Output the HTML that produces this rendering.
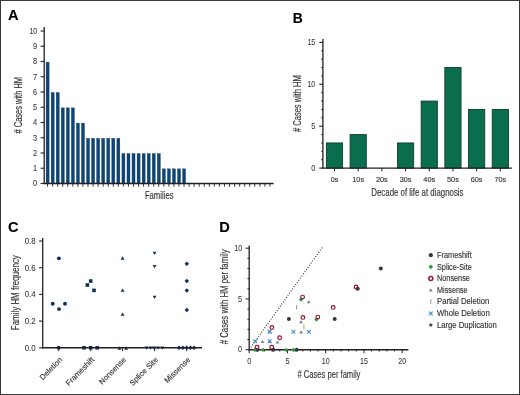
<!DOCTYPE html>
<html><head><meta charset="utf-8"><style>
html,body{margin:0;padding:0;background:#fff;overflow:hidden;}
#w{width:520px;height:395px;will-change:transform;}
svg{display:block;font-family:"Liberation Sans", sans-serif;}
</style></head><body><div id="w">
<svg width="520" height="395" viewBox="0 0 520 395">
<rect x="0" y="0" width="520" height="395" fill="#fff"/>
<text x="8.0" y="19.6" font-size="14.6" font-weight="bold" fill="#000" stroke="#000" stroke-width="0.12">A</text>
<rect x="46.10" y="62.10" width="3.0" height="121.40" fill="#0c4677" stroke="#08325a" stroke-width="0.35"/>
<rect x="51.16" y="92.60" width="3.0" height="90.90" fill="#0c4677" stroke="#08325a" stroke-width="0.35"/>
<rect x="56.21" y="92.60" width="3.0" height="90.90" fill="#0c4677" stroke="#08325a" stroke-width="0.35"/>
<rect x="61.27" y="107.85" width="3.0" height="75.65" fill="#0c4677" stroke="#08325a" stroke-width="0.35"/>
<rect x="66.32" y="107.85" width="3.0" height="75.65" fill="#0c4677" stroke="#08325a" stroke-width="0.35"/>
<rect x="71.38" y="107.85" width="3.0" height="75.65" fill="#0c4677" stroke="#08325a" stroke-width="0.35"/>
<rect x="76.43" y="123.10" width="3.0" height="60.40" fill="#0c4677" stroke="#08325a" stroke-width="0.35"/>
<rect x="81.48" y="123.10" width="3.0" height="60.40" fill="#0c4677" stroke="#08325a" stroke-width="0.35"/>
<rect x="86.54" y="138.35" width="3.0" height="45.15" fill="#0c4677" stroke="#08325a" stroke-width="0.35"/>
<rect x="91.59" y="138.35" width="3.0" height="45.15" fill="#0c4677" stroke="#08325a" stroke-width="0.35"/>
<rect x="96.65" y="138.35" width="3.0" height="45.15" fill="#0c4677" stroke="#08325a" stroke-width="0.35"/>
<rect x="101.70" y="138.35" width="3.0" height="45.15" fill="#0c4677" stroke="#08325a" stroke-width="0.35"/>
<rect x="106.76" y="138.35" width="3.0" height="45.15" fill="#0c4677" stroke="#08325a" stroke-width="0.35"/>
<rect x="111.81" y="138.35" width="3.0" height="45.15" fill="#0c4677" stroke="#08325a" stroke-width="0.35"/>
<rect x="116.87" y="138.35" width="3.0" height="45.15" fill="#0c4677" stroke="#08325a" stroke-width="0.35"/>
<rect x="121.92" y="153.60" width="3.0" height="29.90" fill="#0c4677" stroke="#08325a" stroke-width="0.35"/>
<rect x="126.98" y="153.60" width="3.0" height="29.90" fill="#0c4677" stroke="#08325a" stroke-width="0.35"/>
<rect x="132.03" y="153.60" width="3.0" height="29.90" fill="#0c4677" stroke="#08325a" stroke-width="0.35"/>
<rect x="137.09" y="153.60" width="3.0" height="29.90" fill="#0c4677" stroke="#08325a" stroke-width="0.35"/>
<rect x="142.14" y="153.60" width="3.0" height="29.90" fill="#0c4677" stroke="#08325a" stroke-width="0.35"/>
<rect x="147.20" y="153.60" width="3.0" height="29.90" fill="#0c4677" stroke="#08325a" stroke-width="0.35"/>
<rect x="152.25" y="153.60" width="3.0" height="29.90" fill="#0c4677" stroke="#08325a" stroke-width="0.35"/>
<rect x="157.31" y="153.60" width="3.0" height="29.90" fill="#0c4677" stroke="#08325a" stroke-width="0.35"/>
<rect x="162.36" y="168.85" width="3.0" height="14.65" fill="#0c4677" stroke="#08325a" stroke-width="0.35"/>
<rect x="167.42" y="168.85" width="3.0" height="14.65" fill="#0c4677" stroke="#08325a" stroke-width="0.35"/>
<rect x="172.47" y="168.85" width="3.0" height="14.65" fill="#0c4677" stroke="#08325a" stroke-width="0.35"/>
<rect x="177.53" y="168.85" width="3.0" height="14.65" fill="#0c4677" stroke="#08325a" stroke-width="0.35"/>
<rect x="182.58" y="168.85" width="3.0" height="14.65" fill="#0c4677" stroke="#08325a" stroke-width="0.35"/>
<line x1="47.55" y1="183.50" x2="47.55" y2="186.70" stroke="#231f20" stroke-width="0.9"/>
<line x1="52.60" y1="183.50" x2="52.60" y2="186.70" stroke="#231f20" stroke-width="0.9"/>
<line x1="57.66" y1="183.50" x2="57.66" y2="186.70" stroke="#231f20" stroke-width="0.9"/>
<line x1="62.71" y1="183.50" x2="62.71" y2="186.70" stroke="#231f20" stroke-width="0.9"/>
<line x1="67.77" y1="183.50" x2="67.77" y2="186.70" stroke="#231f20" stroke-width="0.9"/>
<line x1="72.82" y1="183.50" x2="72.82" y2="186.70" stroke="#231f20" stroke-width="0.9"/>
<line x1="77.88" y1="183.50" x2="77.88" y2="186.70" stroke="#231f20" stroke-width="0.9"/>
<line x1="82.94" y1="183.50" x2="82.94" y2="186.70" stroke="#231f20" stroke-width="0.9"/>
<line x1="87.99" y1="183.50" x2="87.99" y2="186.70" stroke="#231f20" stroke-width="0.9"/>
<line x1="93.04" y1="183.50" x2="93.04" y2="186.70" stroke="#231f20" stroke-width="0.9"/>
<line x1="98.10" y1="183.50" x2="98.10" y2="186.70" stroke="#231f20" stroke-width="0.9"/>
<line x1="103.16" y1="183.50" x2="103.16" y2="186.70" stroke="#231f20" stroke-width="0.9"/>
<line x1="108.21" y1="183.50" x2="108.21" y2="186.70" stroke="#231f20" stroke-width="0.9"/>
<line x1="113.27" y1="183.50" x2="113.27" y2="186.70" stroke="#231f20" stroke-width="0.9"/>
<line x1="118.32" y1="183.50" x2="118.32" y2="186.70" stroke="#231f20" stroke-width="0.9"/>
<line x1="123.37" y1="183.50" x2="123.37" y2="186.70" stroke="#231f20" stroke-width="0.9"/>
<line x1="128.43" y1="183.50" x2="128.43" y2="186.70" stroke="#231f20" stroke-width="0.9"/>
<line x1="133.49" y1="183.50" x2="133.49" y2="186.70" stroke="#231f20" stroke-width="0.9"/>
<line x1="138.54" y1="183.50" x2="138.54" y2="186.70" stroke="#231f20" stroke-width="0.9"/>
<line x1="143.59" y1="183.50" x2="143.59" y2="186.70" stroke="#231f20" stroke-width="0.9"/>
<line x1="148.65" y1="183.50" x2="148.65" y2="186.70" stroke="#231f20" stroke-width="0.9"/>
<line x1="153.70" y1="183.50" x2="153.70" y2="186.70" stroke="#231f20" stroke-width="0.9"/>
<line x1="158.76" y1="183.50" x2="158.76" y2="186.70" stroke="#231f20" stroke-width="0.9"/>
<line x1="163.81" y1="183.50" x2="163.81" y2="186.70" stroke="#231f20" stroke-width="0.9"/>
<line x1="168.87" y1="183.50" x2="168.87" y2="186.70" stroke="#231f20" stroke-width="0.9"/>
<line x1="173.93" y1="183.50" x2="173.93" y2="186.70" stroke="#231f20" stroke-width="0.9"/>
<line x1="178.98" y1="183.50" x2="178.98" y2="186.70" stroke="#231f20" stroke-width="0.9"/>
<line x1="184.03" y1="183.50" x2="184.03" y2="186.70" stroke="#231f20" stroke-width="0.9"/>
<line x1="189.09" y1="183.50" x2="189.09" y2="186.70" stroke="#231f20" stroke-width="0.9"/>
<line x1="194.14" y1="183.50" x2="194.14" y2="186.70" stroke="#231f20" stroke-width="0.9"/>
<line x1="199.20" y1="183.50" x2="199.20" y2="186.70" stroke="#231f20" stroke-width="0.9"/>
<line x1="204.25" y1="183.50" x2="204.25" y2="186.70" stroke="#231f20" stroke-width="0.9"/>
<line x1="209.31" y1="183.50" x2="209.31" y2="186.70" stroke="#231f20" stroke-width="0.9"/>
<line x1="214.37" y1="183.50" x2="214.37" y2="186.70" stroke="#231f20" stroke-width="0.9"/>
<line x1="219.42" y1="183.50" x2="219.42" y2="186.70" stroke="#231f20" stroke-width="0.9"/>
<line x1="224.47" y1="183.50" x2="224.47" y2="186.70" stroke="#231f20" stroke-width="0.9"/>
<line x1="229.53" y1="183.50" x2="229.53" y2="186.70" stroke="#231f20" stroke-width="0.9"/>
<line x1="234.58" y1="183.50" x2="234.58" y2="186.70" stroke="#231f20" stroke-width="0.9"/>
<line x1="239.64" y1="183.50" x2="239.64" y2="186.70" stroke="#231f20" stroke-width="0.9"/>
<line x1="244.69" y1="183.50" x2="244.69" y2="186.70" stroke="#231f20" stroke-width="0.9"/>
<line x1="249.75" y1="183.50" x2="249.75" y2="186.70" stroke="#231f20" stroke-width="0.9"/>
<line x1="254.81" y1="183.50" x2="254.81" y2="186.70" stroke="#231f20" stroke-width="0.9"/>
<line x1="259.86" y1="183.50" x2="259.86" y2="186.70" stroke="#231f20" stroke-width="0.9"/>
<line x1="264.91" y1="183.50" x2="264.91" y2="186.70" stroke="#231f20" stroke-width="0.9"/>
<line x1="269.97" y1="183.50" x2="269.97" y2="186.70" stroke="#231f20" stroke-width="0.9"/>
<line x1="44.20" y1="27.10" x2="44.20" y2="184.10" stroke="#231f20" stroke-width="1.3"/>
<line x1="43.60" y1="183.50" x2="273.60" y2="183.50" stroke="#231f20" stroke-width="1.4"/>
<line x1="40.60" y1="183.50" x2="44.20" y2="183.50" stroke="#231f20" stroke-width="1.1"/>
<text x="37.10" y="186.30" font-size="8.6" text-anchor="end" fill="#333" stroke="#333" stroke-width="0.06" textLength="4.11" lengthAdjust="spacingAndGlyphs">0</text>
<line x1="40.60" y1="168.25" x2="44.20" y2="168.25" stroke="#231f20" stroke-width="1.1"/>
<text x="37.10" y="171.05" font-size="8.6" text-anchor="end" fill="#333" stroke="#333" stroke-width="0.06" textLength="4.11" lengthAdjust="spacingAndGlyphs">1</text>
<line x1="40.60" y1="153.00" x2="44.20" y2="153.00" stroke="#231f20" stroke-width="1.1"/>
<text x="37.10" y="155.80" font-size="8.6" text-anchor="end" fill="#333" stroke="#333" stroke-width="0.06" textLength="4.11" lengthAdjust="spacingAndGlyphs">2</text>
<line x1="40.60" y1="137.75" x2="44.20" y2="137.75" stroke="#231f20" stroke-width="1.1"/>
<text x="37.10" y="140.55" font-size="8.6" text-anchor="end" fill="#333" stroke="#333" stroke-width="0.06" textLength="4.11" lengthAdjust="spacingAndGlyphs">3</text>
<line x1="40.60" y1="122.50" x2="44.20" y2="122.50" stroke="#231f20" stroke-width="1.1"/>
<text x="37.10" y="125.30" font-size="8.6" text-anchor="end" fill="#333" stroke="#333" stroke-width="0.06" textLength="4.11" lengthAdjust="spacingAndGlyphs">4</text>
<line x1="40.60" y1="107.25" x2="44.20" y2="107.25" stroke="#231f20" stroke-width="1.1"/>
<text x="37.10" y="110.05" font-size="8.6" text-anchor="end" fill="#333" stroke="#333" stroke-width="0.06" textLength="4.11" lengthAdjust="spacingAndGlyphs">5</text>
<line x1="40.60" y1="92.00" x2="44.20" y2="92.00" stroke="#231f20" stroke-width="1.1"/>
<text x="37.10" y="94.80" font-size="8.6" text-anchor="end" fill="#333" stroke="#333" stroke-width="0.06" textLength="4.11" lengthAdjust="spacingAndGlyphs">6</text>
<line x1="40.60" y1="76.75" x2="44.20" y2="76.75" stroke="#231f20" stroke-width="1.1"/>
<text x="37.10" y="79.55" font-size="8.6" text-anchor="end" fill="#333" stroke="#333" stroke-width="0.06" textLength="4.11" lengthAdjust="spacingAndGlyphs">7</text>
<line x1="40.60" y1="61.50" x2="44.20" y2="61.50" stroke="#231f20" stroke-width="1.1"/>
<text x="37.10" y="64.30" font-size="8.6" text-anchor="end" fill="#333" stroke="#333" stroke-width="0.06" textLength="4.11" lengthAdjust="spacingAndGlyphs">8</text>
<line x1="40.60" y1="46.25" x2="44.20" y2="46.25" stroke="#231f20" stroke-width="1.1"/>
<text x="37.10" y="49.05" font-size="8.6" text-anchor="end" fill="#333" stroke="#333" stroke-width="0.06" textLength="4.11" lengthAdjust="spacingAndGlyphs">9</text>
<line x1="40.60" y1="31.00" x2="44.20" y2="31.00" stroke="#231f20" stroke-width="1.1"/>
<text x="37.10" y="33.80" font-size="8.6" text-anchor="end" fill="#333" stroke="#333" stroke-width="0.06" textLength="7.9" lengthAdjust="spacingAndGlyphs">10</text>
<text x="159.20" y="199.30" font-size="10.6" text-anchor="middle" fill="#333" stroke="#333" stroke-width="0.14" textLength="28.58" lengthAdjust="spacingAndGlyphs">Families</text>
<text transform="translate(21.90,105.20) rotate(-90)" font-size="10.6" text-anchor="middle" fill="#333" stroke="#333" stroke-width="0.14" textLength="56.58" lengthAdjust="spacingAndGlyphs"># Cases with HM</text>
<text x="292.8" y="23.1" font-size="13.9" font-weight="bold" fill="#000" stroke="#000" stroke-width="0.12">B</text>
<rect x="326.40" y="142.96" width="16.2" height="25.14" fill="#0a6d4d" stroke="#0c3f2d" stroke-width="0.9"/>
<line x1="334.50" y1="168.10" x2="334.50" y2="171.40" stroke="#231f20" stroke-width="1.0"/>
<text x="334.50" y="181.70" font-size="7.7" text-anchor="middle" fill="#333" stroke="#333" stroke-width="0.14" textLength="7.73" lengthAdjust="spacingAndGlyphs">0s</text>
<rect x="350.09" y="134.58" width="16.2" height="33.52" fill="#0a6d4d" stroke="#0c3f2d" stroke-width="0.9"/>
<line x1="358.19" y1="168.10" x2="358.19" y2="171.40" stroke="#231f20" stroke-width="1.0"/>
<text x="358.19" y="181.70" font-size="7.7" text-anchor="middle" fill="#333" stroke="#333" stroke-width="0.14" textLength="11.79" lengthAdjust="spacingAndGlyphs">10s</text>
<line x1="381.88" y1="168.10" x2="381.88" y2="171.40" stroke="#231f20" stroke-width="1.0"/>
<text x="381.88" y="181.70" font-size="7.7" text-anchor="middle" fill="#333" stroke="#333" stroke-width="0.14" textLength="11.79" lengthAdjust="spacingAndGlyphs">20s</text>
<rect x="397.47" y="142.96" width="16.2" height="25.14" fill="#0a6d4d" stroke="#0c3f2d" stroke-width="0.9"/>
<line x1="405.57" y1="168.10" x2="405.57" y2="171.40" stroke="#231f20" stroke-width="1.0"/>
<text x="405.57" y="181.70" font-size="7.7" text-anchor="middle" fill="#333" stroke="#333" stroke-width="0.14" textLength="11.79" lengthAdjust="spacingAndGlyphs">30s</text>
<rect x="421.16" y="101.06" width="16.2" height="67.04" fill="#0a6d4d" stroke="#0c3f2d" stroke-width="0.9"/>
<line x1="429.26" y1="168.10" x2="429.26" y2="171.40" stroke="#231f20" stroke-width="1.0"/>
<text x="429.26" y="181.70" font-size="7.7" text-anchor="middle" fill="#333" stroke="#333" stroke-width="0.14" textLength="11.79" lengthAdjust="spacingAndGlyphs">40s</text>
<rect x="444.85" y="67.54" width="16.2" height="100.56" fill="#0a6d4d" stroke="#0c3f2d" stroke-width="0.9"/>
<line x1="452.95" y1="168.10" x2="452.95" y2="171.40" stroke="#231f20" stroke-width="1.0"/>
<text x="452.95" y="181.70" font-size="7.7" text-anchor="middle" fill="#333" stroke="#333" stroke-width="0.14" textLength="11.79" lengthAdjust="spacingAndGlyphs">50s</text>
<rect x="468.54" y="109.44" width="16.2" height="58.66" fill="#0a6d4d" stroke="#0c3f2d" stroke-width="0.9"/>
<line x1="476.64" y1="168.10" x2="476.64" y2="171.40" stroke="#231f20" stroke-width="1.0"/>
<text x="476.64" y="181.70" font-size="7.7" text-anchor="middle" fill="#333" stroke="#333" stroke-width="0.14" textLength="11.79" lengthAdjust="spacingAndGlyphs">60s</text>
<rect x="492.23" y="109.44" width="16.2" height="58.66" fill="#0a6d4d" stroke="#0c3f2d" stroke-width="0.9"/>
<line x1="500.33" y1="168.10" x2="500.33" y2="171.40" stroke="#231f20" stroke-width="1.0"/>
<text x="500.33" y="181.70" font-size="7.7" text-anchor="middle" fill="#333" stroke="#333" stroke-width="0.14" textLength="11.79" lengthAdjust="spacingAndGlyphs">70s</text>
<line x1="322.90" y1="39.10" x2="322.90" y2="168.70" stroke="#231f20" stroke-width="1.3"/>
<line x1="322.30" y1="168.10" x2="511.90" y2="168.10" stroke="#231f20" stroke-width="1.4"/>
<line x1="319.30" y1="168.10" x2="322.90" y2="168.10" stroke="#231f20" stroke-width="1.1"/>
<text x="315.30" y="170.90" font-size="8.6" text-anchor="end" fill="#333" stroke="#333" stroke-width="0.06" textLength="4.11" lengthAdjust="spacingAndGlyphs">0</text>
<line x1="321.10" y1="159.72" x2="322.90" y2="159.72" stroke="#231f20" stroke-width="0.9"/>
<line x1="321.10" y1="151.34" x2="322.90" y2="151.34" stroke="#231f20" stroke-width="0.9"/>
<line x1="321.10" y1="142.96" x2="322.90" y2="142.96" stroke="#231f20" stroke-width="0.9"/>
<line x1="321.10" y1="134.58" x2="322.90" y2="134.58" stroke="#231f20" stroke-width="0.9"/>
<line x1="319.30" y1="126.20" x2="322.90" y2="126.20" stroke="#231f20" stroke-width="1.1"/>
<text x="315.30" y="129.00" font-size="8.6" text-anchor="end" fill="#333" stroke="#333" stroke-width="0.06" textLength="4.11" lengthAdjust="spacingAndGlyphs">5</text>
<line x1="321.10" y1="117.82" x2="322.90" y2="117.82" stroke="#231f20" stroke-width="0.9"/>
<line x1="321.10" y1="109.44" x2="322.90" y2="109.44" stroke="#231f20" stroke-width="0.9"/>
<line x1="321.10" y1="101.06" x2="322.90" y2="101.06" stroke="#231f20" stroke-width="0.9"/>
<line x1="321.10" y1="92.68" x2="322.90" y2="92.68" stroke="#231f20" stroke-width="0.9"/>
<line x1="319.30" y1="84.30" x2="322.90" y2="84.30" stroke="#231f20" stroke-width="1.1"/>
<text x="315.30" y="87.10" font-size="8.6" text-anchor="end" fill="#333" stroke="#333" stroke-width="0.06" textLength="7.9" lengthAdjust="spacingAndGlyphs">10</text>
<line x1="321.10" y1="75.92" x2="322.90" y2="75.92" stroke="#231f20" stroke-width="0.9"/>
<line x1="321.10" y1="67.54" x2="322.90" y2="67.54" stroke="#231f20" stroke-width="0.9"/>
<line x1="321.10" y1="59.16" x2="322.90" y2="59.16" stroke="#231f20" stroke-width="0.9"/>
<line x1="321.10" y1="50.78" x2="322.90" y2="50.78" stroke="#231f20" stroke-width="0.9"/>
<line x1="319.30" y1="42.40" x2="322.90" y2="42.40" stroke="#231f20" stroke-width="1.1"/>
<text x="315.30" y="45.20" font-size="8.6" text-anchor="end" fill="#333" stroke="#333" stroke-width="0.06" textLength="7.9" lengthAdjust="spacingAndGlyphs">15</text>
<text x="417.40" y="196.00" font-size="10.6" text-anchor="middle" fill="#333" stroke="#333" stroke-width="0.14" textLength="92.2" lengthAdjust="spacingAndGlyphs">Decade of life at diagnosis</text>
<text transform="translate(300.70,103.60) rotate(-90)" font-size="10.6" text-anchor="middle" fill="#333" stroke="#333" stroke-width="0.14" textLength="56.78" lengthAdjust="spacingAndGlyphs"># Cases with HM</text>
<text x="8.0" y="231.6" font-size="14.6" font-weight="bold" fill="#000" stroke="#000" stroke-width="0.12">C</text>
<line x1="39.10" y1="347.80" x2="42.70" y2="347.80" stroke="#231f20" stroke-width="1.1"/>
<text x="35.60" y="350.60" font-size="8.6" text-anchor="end" fill="#333" stroke="#333" stroke-width="0.06" textLength="10.9" lengthAdjust="spacingAndGlyphs">0.0</text>
<line x1="39.10" y1="321.10" x2="42.70" y2="321.10" stroke="#231f20" stroke-width="1.1"/>
<text x="35.60" y="323.90" font-size="8.6" text-anchor="end" fill="#333" stroke="#333" stroke-width="0.06" textLength="10.9" lengthAdjust="spacingAndGlyphs">0.2</text>
<line x1="39.10" y1="294.40" x2="42.70" y2="294.40" stroke="#231f20" stroke-width="1.1"/>
<text x="35.60" y="297.20" font-size="8.6" text-anchor="end" fill="#333" stroke="#333" stroke-width="0.06" textLength="10.9" lengthAdjust="spacingAndGlyphs">0.4</text>
<line x1="39.10" y1="267.70" x2="42.70" y2="267.70" stroke="#231f20" stroke-width="1.1"/>
<text x="35.60" y="270.50" font-size="8.6" text-anchor="end" fill="#333" stroke="#333" stroke-width="0.06" textLength="10.9" lengthAdjust="spacingAndGlyphs">0.6</text>
<line x1="39.10" y1="241.00" x2="42.70" y2="241.00" stroke="#231f20" stroke-width="1.1"/>
<text x="35.60" y="243.80" font-size="8.6" text-anchor="end" fill="#333" stroke="#333" stroke-width="0.06" textLength="10.9" lengthAdjust="spacingAndGlyphs">0.8</text>
<line x1="58.80" y1="347.80" x2="58.80" y2="351.20" stroke="#231f20" stroke-width="1.0"/>
<line x1="90.70" y1="347.80" x2="90.70" y2="351.20" stroke="#231f20" stroke-width="1.0"/>
<line x1="122.60" y1="347.80" x2="122.60" y2="351.20" stroke="#231f20" stroke-width="1.0"/>
<line x1="154.60" y1="347.80" x2="154.60" y2="351.20" stroke="#231f20" stroke-width="1.0"/>
<line x1="186.70" y1="347.80" x2="186.70" y2="351.20" stroke="#231f20" stroke-width="1.0"/>
<circle cx="58.90" cy="258.36" r="1.95" fill="#12305a"/>
<circle cx="52.70" cy="303.75" r="1.95" fill="#12305a"/>
<circle cx="65.00" cy="303.75" r="1.95" fill="#12305a"/>
<circle cx="59.05" cy="309.09" r="1.95" fill="#12305a"/>
<circle cx="58.60" cy="347.80" r="1.95" fill="#12305a"/>
<rect x="85.60" y="283.25" width="3.6" height="3.6" fill="#12305a"/>
<rect x="88.90" y="279.25" width="3.6" height="3.6" fill="#12305a"/>
<rect x="92.20" y="288.59" width="3.6" height="3.6" fill="#12305a"/>
<rect x="82.20" y="346.00" width="3.6" height="3.6" fill="#12305a"/>
<rect x="88.90" y="346.00" width="3.6" height="3.6" fill="#12305a"/>
<rect x="95.40" y="346.00" width="3.6" height="3.6" fill="#12305a"/>
<polygon points="122.60,256.37 124.50,259.68 120.70,259.68" fill="#12305a"/>
<polygon points="122.60,288.41 124.50,291.72 120.70,291.72" fill="#12305a"/>
<polygon points="122.60,312.44 124.50,315.75 120.70,315.75" fill="#12305a"/>
<polygon points="119.50,346.35 121.40,349.66 117.60,349.66" fill="#12305a"/>
<polygon points="126.20,346.35 128.10,349.66 124.30,349.66" fill="#12305a"/>
<polygon points="154.60,255.00 156.50,251.69 152.70,251.69" fill="#12305a"/>
<polygon points="154.60,268.35 156.50,265.04 152.70,265.04" fill="#12305a"/>
<polygon points="154.60,299.05 156.50,295.75 152.70,295.75" fill="#12305a"/>
<polygon points="146.50,349.78 148.40,346.48 144.60,346.48" fill="#12305a"/>
<polygon points="150.50,349.78 152.40,346.48 148.60,346.48" fill="#12305a"/>
<polygon points="154.00,349.78 155.90,346.48 152.10,346.48" fill="#12305a"/>
<polygon points="158.00,349.78 159.90,346.48 156.10,346.48" fill="#12305a"/>
<polygon points="162.50,349.78 164.40,346.48 160.60,346.48" fill="#12305a"/>
<polygon points="186.80,261.44 189.05,263.69 186.80,265.94 184.55,263.69" fill="#12305a"/>
<polygon points="186.80,278.80 189.05,281.05 186.80,283.30 184.55,281.05" fill="#12305a"/>
<polygon points="186.80,288.14 189.05,290.39 186.80,292.64 184.55,290.39" fill="#12305a"/>
<polygon points="186.80,307.77 189.05,310.02 186.80,312.27 184.55,310.02" fill="#12305a"/>
<polygon points="179.00,345.55 181.25,347.80 179.00,350.05 176.75,347.80" fill="#12305a"/>
<polygon points="182.80,345.55 185.05,347.80 182.80,350.05 180.55,347.80" fill="#12305a"/>
<polygon points="186.60,345.55 188.85,347.80 186.60,350.05 184.35,347.80" fill="#12305a"/>
<polygon points="190.50,345.55 192.75,347.80 190.50,350.05 188.25,347.80" fill="#12305a"/>
<polygon points="194.00,345.55 196.25,347.80 194.00,350.05 191.75,347.80" fill="#12305a"/>
<line x1="42.70" y1="238.00" x2="42.70" y2="348.40" stroke="#231f20" stroke-width="1.3"/>
<line x1="42.10" y1="347.80" x2="202.00" y2="347.80" stroke="#231f20" stroke-width="1.4"/>
<text transform="translate(62.80,360.30) rotate(-45)" font-size="7.75" text-anchor="end" fill="#333" stroke="#333" stroke-width="0.14">Deletion</text>
<text transform="translate(94.70,360.30) rotate(-45)" font-size="7.75" text-anchor="end" fill="#333" stroke="#333" stroke-width="0.14">Frameshift</text>
<text transform="translate(126.60,360.30) rotate(-45)" font-size="7.75" text-anchor="end" fill="#333" stroke="#333" stroke-width="0.14">Nonsense</text>
<text transform="translate(158.60,360.30) rotate(-45)" font-size="7.75" text-anchor="end" fill="#333" stroke="#333" stroke-width="0.14">Splice Site</text>
<text transform="translate(190.70,360.30) rotate(-45)" font-size="7.75" text-anchor="end" fill="#333" stroke="#333" stroke-width="0.14">Missense</text>
<text transform="translate(18.90,292.70) rotate(-90)" font-size="10.6" text-anchor="middle" fill="#333" stroke="#333" stroke-width="0.14" textLength="75.02" lengthAdjust="spacingAndGlyphs">Family HM frequency</text>
<text x="219.3" y="231.6" font-size="14.6" font-weight="bold" fill="#000" stroke="#000" stroke-width="0.12">D</text>
<line x1="249.20" y1="245.50" x2="249.20" y2="350.30" stroke="#231f20" stroke-width="1.3"/>
<line x1="248.60" y1="349.70" x2="408.40" y2="349.70" stroke="#231f20" stroke-width="1.4"/>
<line x1="245.60" y1="349.70" x2="249.20" y2="349.70" stroke="#231f20" stroke-width="1.0"/>
<text x="242.20" y="352.30" font-size="8.6" text-anchor="end" fill="#333" stroke="#333" stroke-width="0.06" textLength="4.11" lengthAdjust="spacingAndGlyphs">0</text>
<line x1="247.40" y1="339.55" x2="249.20" y2="339.55" stroke="#231f20" stroke-width="1.0"/>
<line x1="247.40" y1="329.40" x2="249.20" y2="329.40" stroke="#231f20" stroke-width="1.0"/>
<line x1="247.40" y1="319.25" x2="249.20" y2="319.25" stroke="#231f20" stroke-width="1.0"/>
<line x1="247.40" y1="309.10" x2="249.20" y2="309.10" stroke="#231f20" stroke-width="1.0"/>
<line x1="245.60" y1="298.95" x2="249.20" y2="298.95" stroke="#231f20" stroke-width="1.0"/>
<text x="242.20" y="301.55" font-size="8.6" text-anchor="end" fill="#333" stroke="#333" stroke-width="0.06" textLength="4.11" lengthAdjust="spacingAndGlyphs">5</text>
<line x1="247.40" y1="288.80" x2="249.20" y2="288.80" stroke="#231f20" stroke-width="1.0"/>
<line x1="247.40" y1="278.65" x2="249.20" y2="278.65" stroke="#231f20" stroke-width="1.0"/>
<line x1="247.40" y1="268.50" x2="249.20" y2="268.50" stroke="#231f20" stroke-width="1.0"/>
<line x1="247.40" y1="258.35" x2="249.20" y2="258.35" stroke="#231f20" stroke-width="1.0"/>
<line x1="245.60" y1="248.20" x2="249.20" y2="248.20" stroke="#231f20" stroke-width="1.0"/>
<text x="242.20" y="250.80" font-size="8.6" text-anchor="end" fill="#333" stroke="#333" stroke-width="0.06" textLength="7.9" lengthAdjust="spacingAndGlyphs">10</text>
<line x1="249.20" y1="349.70" x2="249.20" y2="353.30" stroke="#231f20" stroke-width="1.0"/>
<text x="249.20" y="363.80" font-size="8.6" text-anchor="middle" fill="#333" stroke="#333" stroke-width="0.06" textLength="4.11" lengthAdjust="spacingAndGlyphs">0</text>
<line x1="256.85" y1="349.70" x2="256.85" y2="351.50" stroke="#231f20" stroke-width="1.0"/>
<line x1="264.50" y1="349.70" x2="264.50" y2="351.50" stroke="#231f20" stroke-width="1.0"/>
<line x1="272.15" y1="349.70" x2="272.15" y2="351.50" stroke="#231f20" stroke-width="1.0"/>
<line x1="279.80" y1="349.70" x2="279.80" y2="351.50" stroke="#231f20" stroke-width="1.0"/>
<line x1="287.45" y1="349.70" x2="287.45" y2="353.30" stroke="#231f20" stroke-width="1.0"/>
<text x="287.45" y="363.80" font-size="8.6" text-anchor="middle" fill="#333" stroke="#333" stroke-width="0.06" textLength="4.11" lengthAdjust="spacingAndGlyphs">5</text>
<line x1="295.10" y1="349.70" x2="295.10" y2="351.50" stroke="#231f20" stroke-width="1.0"/>
<line x1="302.75" y1="349.70" x2="302.75" y2="351.50" stroke="#231f20" stroke-width="1.0"/>
<line x1="310.40" y1="349.70" x2="310.40" y2="351.50" stroke="#231f20" stroke-width="1.0"/>
<line x1="318.05" y1="349.70" x2="318.05" y2="351.50" stroke="#231f20" stroke-width="1.0"/>
<line x1="325.70" y1="349.70" x2="325.70" y2="353.30" stroke="#231f20" stroke-width="1.0"/>
<text x="325.70" y="363.80" font-size="8.6" text-anchor="middle" fill="#333" stroke="#333" stroke-width="0.06" textLength="7.9" lengthAdjust="spacingAndGlyphs">10</text>
<line x1="333.35" y1="349.70" x2="333.35" y2="351.50" stroke="#231f20" stroke-width="1.0"/>
<line x1="341.00" y1="349.70" x2="341.00" y2="351.50" stroke="#231f20" stroke-width="1.0"/>
<line x1="348.65" y1="349.70" x2="348.65" y2="351.50" stroke="#231f20" stroke-width="1.0"/>
<line x1="356.30" y1="349.70" x2="356.30" y2="351.50" stroke="#231f20" stroke-width="1.0"/>
<line x1="363.95" y1="349.70" x2="363.95" y2="353.30" stroke="#231f20" stroke-width="1.0"/>
<text x="363.95" y="363.80" font-size="8.6" text-anchor="middle" fill="#333" stroke="#333" stroke-width="0.06" textLength="7.9" lengthAdjust="spacingAndGlyphs">15</text>
<line x1="371.60" y1="349.70" x2="371.60" y2="351.50" stroke="#231f20" stroke-width="1.0"/>
<line x1="379.25" y1="349.70" x2="379.25" y2="351.50" stroke="#231f20" stroke-width="1.0"/>
<line x1="386.90" y1="349.70" x2="386.90" y2="351.50" stroke="#231f20" stroke-width="1.0"/>
<line x1="394.55" y1="349.70" x2="394.55" y2="351.50" stroke="#231f20" stroke-width="1.0"/>
<line x1="402.20" y1="349.70" x2="402.20" y2="353.30" stroke="#231f20" stroke-width="1.0"/>
<text x="402.20" y="363.80" font-size="8.6" text-anchor="middle" fill="#333" stroke="#333" stroke-width="0.06" textLength="7.9" lengthAdjust="spacingAndGlyphs">20</text>
<line x1="249.20" y1="349.70" x2="322.6" y2="247.0" stroke="#2a2a2a" stroke-width="1.05" stroke-dasharray="1.0,1.65"/>
<text x="328.90" y="377.50" font-size="10.6" text-anchor="middle" fill="#333" stroke="#333" stroke-width="0.14" textLength="63.01" lengthAdjust="spacingAndGlyphs"># Cases per family</text>
<text transform="translate(227.80,296.90) rotate(-90)" font-size="10.6" text-anchor="middle" fill="#333" stroke="#333" stroke-width="0.14" textLength="94.9" lengthAdjust="spacingAndGlyphs"># Cases with HM per family</text>
<circle cx="288.90" cy="319.10" r="2.0" fill="#2f3a40"/>
<circle cx="334.70" cy="319.10" r="2.0" fill="#2f3a40"/>
<circle cx="357.70" cy="288.70" r="2.0" fill="#2f3a40"/>
<circle cx="380.80" cy="268.50" r="2.0" fill="#2f3a40"/>
<circle cx="257.40" cy="349.70" r="2.0" fill="#2f3a40"/>
<circle cx="273.40" cy="349.70" r="2.0" fill="#2f3a40"/>
<circle cx="296.60" cy="349.70" r="2.0" fill="#2f3a40"/>
<polygon points="301.00,297.40 303.20,299.60 301.00,301.80 298.80,299.60" fill="#2e9a3c"/>
<polygon points="316.40,317.40 318.60,319.60 316.40,321.80 314.20,319.60" fill="#2e9a3c"/>
<polygon points="254.90,347.70 257.10,349.90 254.90,352.10 252.70,349.90" fill="#2e9a3c"/>
<polygon points="263.00,347.70 265.20,349.90 263.00,352.10 260.80,349.90" fill="#2e9a3c"/>
<polygon points="286.10,347.70 288.30,349.90 286.10,352.10 283.90,349.90" fill="#2e9a3c"/>
<polygon points="293.40,347.70 295.60,349.90 293.40,352.10 291.20,349.90" fill="#2e9a3c"/>
<polygon points="262.60,339.90 264.50,343.10 260.70,343.10" fill="#7d7c9c"/>
<polygon points="269.70,339.70 271.60,342.90 267.80,342.90" fill="#7d7c9c"/>
<polygon points="269.70,330.00 271.60,333.20 267.80,333.20" fill="#7d7c9c"/>
<polygon points="277.40,340.40 279.30,343.60 275.50,343.60" fill="#7d7c9c"/>
<polygon points="301.00,320.00 302.90,323.20 299.10,323.20" fill="#7d7c9c"/>
<polygon points="301.10,330.30 303.00,333.50 299.20,333.50" fill="#7d7c9c"/>
<polygon points="308.70,300.00 310.60,303.20 306.80,303.20" fill="#7d7c9c"/>
<line x1="296.60" y1="305.00" x2="296.60" y2="309.60" stroke="#a8a38a" stroke-width="1.1"/>
<line x1="303.90" y1="324.80" x2="303.90" y2="329.40" stroke="#a8a38a" stroke-width="1.1"/>
<path d="M253.40,339.40L257.20,343.20M257.20,339.40L253.40,343.20" stroke="#3b90c6" stroke-width="1.1"/>
<path d="M267.80,339.40L271.60,343.20M271.60,339.40L267.80,343.20" stroke="#3b90c6" stroke-width="1.1"/>
<path d="M267.80,329.70L271.60,333.50M271.60,329.70L267.80,333.50" stroke="#3b90c6" stroke-width="1.1"/>
<path d="M291.50,329.80L295.30,333.60M295.30,329.80L291.50,333.60" stroke="#3b90c6" stroke-width="1.1"/>
<path d="M307.00,329.80L310.80,333.60M310.80,329.80L307.00,333.60" stroke="#3b90c6" stroke-width="1.1"/>
<circle cx="257.10" cy="347.30" r="1.85" fill="none" stroke="#9e1231" stroke-width="1.2"/>
<circle cx="271.70" cy="347.30" r="1.85" fill="none" stroke="#9e1231" stroke-width="1.2"/>
<circle cx="271.90" cy="327.50" r="1.85" fill="none" stroke="#9e1231" stroke-width="1.2"/>
<circle cx="279.60" cy="337.80" r="1.85" fill="none" stroke="#9e1231" stroke-width="1.2"/>
<circle cx="302.60" cy="297.10" r="1.85" fill="none" stroke="#9e1231" stroke-width="1.2"/>
<circle cx="302.90" cy="317.40" r="1.85" fill="none" stroke="#9e1231" stroke-width="1.2"/>
<circle cx="317.80" cy="317.10" r="1.85" fill="none" stroke="#9e1231" stroke-width="1.2"/>
<circle cx="333.20" cy="307.40" r="1.85" fill="none" stroke="#9e1231" stroke-width="1.2"/>
<circle cx="356.10" cy="287.00" r="1.85" fill="none" stroke="#9e1231" stroke-width="1.2"/>
<circle cx="430.80" cy="255.20" r="2.1" fill="#2f3a40"/>
<text x="437.00" y="258.00" font-size="8.3" text-anchor="start" fill="#333" stroke="#333" stroke-width="0.14" textLength="34.69" lengthAdjust="spacingAndGlyphs">Frameshift</text>
<polygon points="430.80,264.40 433.20,266.80 430.80,269.20 428.40,266.80" fill="#2e9a3c"/>
<text x="437.00" y="269.60" font-size="8.3" text-anchor="start" fill="#333" stroke="#333" stroke-width="0.14" textLength="34.7" lengthAdjust="spacingAndGlyphs">Splice-Site</text>
<circle cx="430.80" cy="278.60" r="2.0" fill="none" stroke="#9e1231" stroke-width="1.5"/>
<text x="437.00" y="281.40" font-size="8.3" text-anchor="start" fill="#333" stroke="#333" stroke-width="0.14" textLength="32.89" lengthAdjust="spacingAndGlyphs">Nonsense</text>
<polygon points="430.80,288.30 432.70,291.50 428.90,291.50" fill="#7d7c9c"/>
<text x="437.00" y="293.00" font-size="8.3" text-anchor="start" fill="#333" stroke="#333" stroke-width="0.14" textLength="30.59" lengthAdjust="spacingAndGlyphs">Missense</text>
<line x1="430.80" y1="299.30" x2="430.80" y2="303.90" stroke="#a8a38a" stroke-width="1.1"/>
<text x="437.00" y="304.40" font-size="8.3" text-anchor="start" fill="#333" stroke="#333" stroke-width="0.14" textLength="52.21" lengthAdjust="spacingAndGlyphs">Partial Deletion</text>
<path d="M428.90,311.60L432.70,315.40M432.70,311.60L428.90,315.40" stroke="#3b90c6" stroke-width="1.1"/>
<text x="437.00" y="316.30" font-size="8.3" text-anchor="start" fill="#333" stroke="#333" stroke-width="0.14" textLength="52.71" lengthAdjust="spacingAndGlyphs">Whole Deletion</text>
<polygon points="430.80,322.70 431.39,324.29 433.08,324.36 431.75,325.41 432.21,327.04 430.80,326.10 429.39,327.04 429.85,325.41 428.52,324.36 430.21,324.29" fill="#2a2a2a"/>
<text x="437.00" y="327.90" font-size="8.3" text-anchor="start" fill="#333" stroke="#333" stroke-width="0.14" textLength="59.78" lengthAdjust="spacingAndGlyphs">Large Duplication</text>
<rect x="0.5" y="0.5" width="519" height="394" fill="none" stroke="#3a3a3a" stroke-width="1"/>
</svg>
</div></body></html>
